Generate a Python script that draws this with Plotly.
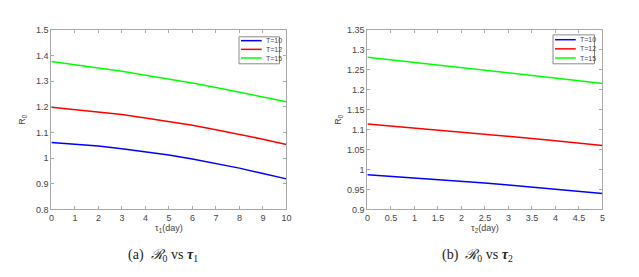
import plotly.graph_objects as go

# Panel (a): R0 vs tau1
tau1 = [0, 1, 2, 3, 4, 5, 6, 7, 8, 9, 10]
a_T10 = [1.061, 1.055, 1.047, 1.037, 1.025, 1.012, 0.997, 0.980, 0.961, 0.940, 0.919]
a_T12 = [1.199, 1.190, 1.181, 1.170, 1.157, 1.143, 1.128, 1.111, 1.093, 1.074, 1.053]
a_T15 = [1.377, 1.365, 1.352, 1.339, 1.324, 1.309, 1.293, 1.276, 1.258, 1.240, 1.220]

# Panel (b): R0 vs tau2
tau2 = [0, 0.5, 1, 1.5, 2, 2.5, 3, 3.5, 4, 4.5, 5]
b_T10 = [0.987, 0.983, 0.979, 0.975, 0.971, 0.966, 0.961, 0.956, 0.951, 0.946, 0.940]
b_T12 = [1.114, 1.109, 1.104, 1.099, 1.094, 1.089, 1.084, 1.078, 1.072, 1.067, 1.0605]
b_T15 = [1.2815, 1.275, 1.269, 1.263, 1.257, 1.250, 1.243, 1.237, 1.230, 1.223, 1.216]

series_names = ["T=10", "T=12", "T=15"]
colors = ["#0000ff", "#ff0000", "#00ff00"]

a_ticks = [0.8, 0.9, 1.0, 1.1, 1.2, 1.3, 1.4, 1.5]
a_ticktext = ["0.8", "0.9", "1", "1.1", "1.2", "1.3", "1.4", "1.5"]
b_ticks = [0.9, 0.95, 1.0, 1.05, 1.1, 1.15, 1.2, 1.25, 1.3, 1.35]
b_ticktext = ["0.9", "0.95", "1", "1.05", "1.1", "1.15", "1.2", "1.25", "1.3", "1.35"]
b_xticks = [0, 0.5, 1, 1.5, 2, 2.5, 3, 3.5, 4, 4.5, 5]
b_xticktext = ["0", "0.5", "1", "1.5", "2", "2.5", "3", "3.5", "4", "4.5", "5"]

W, H = 639, 277
def px_x(p): return p / W
def px_y(p): return 1 - p / H

fig = go.Figure()
for name, ys, c in zip(series_names, [a_T10, a_T12, a_T15], colors):
    fig.add_trace(go.Scatter(x=tau1, y=ys, mode="lines", name=name,
                             line=dict(color=c, width=1.5),
                             xaxis="x", yaxis="y", showlegend=False))
for name, ys, c in zip(series_names, [b_T10, b_T12, b_T15], colors):
    fig.add_trace(go.Scatter(x=tau2, y=ys, mode="lines", name=name,
                             line=dict(color=c, width=1.5),
                             xaxis="x2", yaxis="y2", showlegend=False))

axis_line = "#a8a8a8"
txt = "#454545"
font_fam = "Liberation Sans, Arial, sans-serif"
common = dict(showgrid=False, zeroline=False, showline=True, linecolor=axis_line,
              linewidth=1, mirror="ticks", ticks="inside", ticklen=3,
              tickcolor=axis_line, tickfont=dict(size=9, color=txt, family=font_fam))

fig.update_layout(
    width=W, height=H,
    margin=dict(l=0, r=0, t=0, b=0),
    paper_bgcolor="white", plot_bgcolor="white",
    showlegend=False,
    xaxis=dict(domain=[px_x(49), px_x(287)], range=[0, 10], tickvals=tau1,
               anchor="y",
               title=dict(text="τ<sub>1</sub>(day)", standoff=0,
                          font=dict(size=9, color=txt, family=font_fam)), **common),
    yaxis=dict(domain=[px_y(212), px_y(26)], range=[0.8, 1.5], tickvals=a_ticks,
               ticktext=a_ticktext, anchor="x",
               title=dict(text="R<sub>0</sub>", standoff=8,
                          font=dict(size=9, color=txt, family=font_fam)), **common),
    xaxis2=dict(domain=[px_x(369), px_x(607)], range=[0, 5], tickvals=b_xticks,
                ticktext=b_xticktext, anchor="y2",
                title=dict(text="τ<sub>2</sub>(day)", standoff=0,
                           font=dict(size=9, color=txt, family=font_fam)), **common),
    yaxis2=dict(domain=[px_y(212), px_y(26)], range=[0.9, 1.35], tickvals=b_ticks,
                ticktext=b_ticktext, anchor="x2",
                title=dict(text="R<sub>0</sub>", standoff=3,
                           font=dict(size=9, color=txt, family=font_fam)), **common),
)

# Manual compact legends (MATLAB style), positioned in pixels
legend_boxes = [  # (x0, x1, y0, y1, line_x0, line_x1, text_x, row_ys)
    (239, 280, 33, 61, 241, 262, 264, [37, 46, 55]),
    (557, 599, 31, 61, 559, 580, 582, [36, 45.5, 55]),
]
for (x0, x1, y0, y1, lx0, lx1, tx, rows) in legend_boxes:
    fig.add_shape(type="rect", xref="paper", yref="paper",
                  x0=px_x(x0), x1=px_x(x1), y0=px_y(y1), y1=px_y(y0),
                  line=dict(color="#8a8a8a", width=1), fillcolor="white")
    for name, c, ry in zip(series_names, colors, rows):
        fig.add_shape(type="line", xref="paper", yref="paper",
                      x0=px_x(lx0), x1=px_x(lx1), y0=px_y(ry), y1=px_y(ry),
                      line=dict(color=c, width=1.5))
        fig.add_annotation(x=px_x(tx), y=px_y(ry), xref="paper", yref="paper",
                           xanchor="left", yanchor="middle", text=name,
                           showarrow=False,
                           font=dict(size=7, color=txt, family=font_fam))

cap_font = dict(size=14, color="#222222", family="Liberation Serif, Times New Roman, serif")
fig.add_annotation(x=px_x(162), y=px_y(260), xref="paper", yref="paper",
                   xanchor="center", yanchor="middle",
                   text="(a)  <i>ℛ</i><sub>0</sub> vs <b><i>τ</i></b><sub>1</sub>",
                   showarrow=False, font=cap_font)
fig.add_annotation(x=px_x(481), y=px_y(260), xref="paper", yref="paper",
                   xanchor="center", yanchor="middle",
                   text="(b)  <i>ℛ</i><sub>0</sub> vs <b><i>τ</i></b><sub>2</sub>",
                   showarrow=False, font=cap_font)

fig.write_html("out.html", config={"displayModeBar": False},
               post_script="document.body.style.margin='0';document.body.style.overflow='hidden';")
